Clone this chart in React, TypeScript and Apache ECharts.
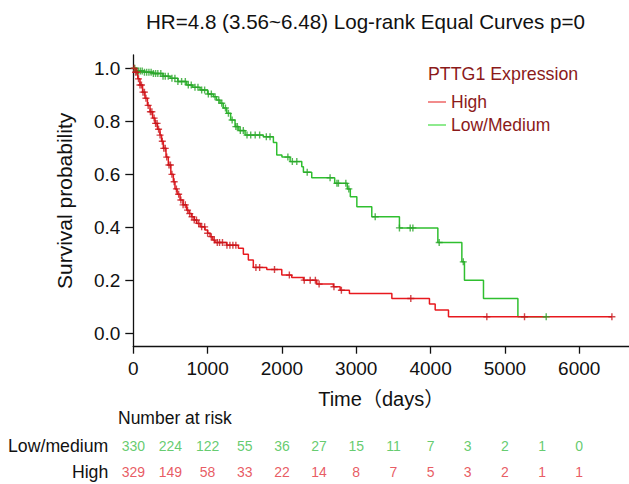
import React, { useEffect, useRef } from "react";
import * as echarts from "echarts";

const TITLE = "HR=4.8 (3.56~6.48) Log-rank Equal Curves p=0";
const LEGEND_TITLE = "PTTG1 Expression";
const GROUPS = ["High", "Low/Medium"];

// Kaplan-Meier step points [day, survival]
const highCurve: [number, number][] = [
  [0, 1.0], [30, 0.985], [60, 0.96], [90, 0.937], [125, 0.91], [157, 0.887], [190, 0.86],
  [225, 0.836], [260, 0.812], [292, 0.792], [325, 0.77], [359, 0.748], [380, 0.725],
  [404, 0.698], [440, 0.665], [471, 0.635], [505, 0.6], [539, 0.572], [561, 0.545],
  [590, 0.525], [629, 0.503], [670, 0.485], [719, 0.465], [750, 0.452], [786, 0.44],
  [820, 0.428], [853, 0.415], [900, 0.402], [965, 0.39], [1000, 0.378], [1033, 0.365],
  [1070, 0.352], [1100, 0.343], [1257, 0.333], [1414, 0.321], [1481, 0.299], [1548, 0.277],
  [1615, 0.249], [1796, 0.241], [1998, 0.22], [2132, 0.211], [2289, 0.201], [2469, 0.186],
  [2692, 0.176], [2783, 0.163], [2908, 0.151], [3479, 0.132], [3985, 0.111], [4062, 0.088],
  [4241, 0.063], [6440, 0.063],
];
const lowCurve: [number, number][] = [
  [0, 1.0], [40, 0.99], [150, 0.985], [270, 0.98], [400, 0.97], [495, 0.962], [600, 0.95],
  [718, 0.937], [800, 0.928], [898, 0.918], [1000, 0.903], [1077, 0.893], [1120, 0.88],
  [1167, 0.868], [1210, 0.85], [1257, 0.83], [1310, 0.805], [1369, 0.78], [1420, 0.765],
  [1504, 0.748], [1750, 0.742], [1885, 0.72], [1930, 0.673], [2000, 0.665], [2110, 0.648],
  [2267, 0.629], [2289, 0.608], [2401, 0.587], [2710, 0.566], [2880, 0.545], [2920, 0.515],
  [3008, 0.478], [3209, 0.44], [3581, 0.398], [4098, 0.343], [4421, 0.27], [4456, 0.201],
  [4712, 0.132], [5175, 0.063], [5556, 0.063],
];

// censoring times (days)
const highCensor = [
  10, 30, 50, 70, 90, 110, 130, 150, 170, 200, 230, 250, 280, 300, 320, 340, 360, 390, 410,
  430, 450, 480, 500, 520, 550, 580, 610, 640, 670, 700, 730, 760, 790, 820, 850, 880, 920,
  960, 1000, 1050, 1090, 1130, 1160, 1200, 1260, 1300, 1340, 1380, 1650, 1700, 1900, 2100,
  2300, 2380, 2450, 2500, 2700, 2800, 3734, 4757, 5264, 6440,
];
const lowCensor = [
  20, 45, 70, 95, 120, 150, 180, 210, 240, 270, 300, 330, 370, 400, 430, 470, 520, 560, 600,
  650, 700, 740, 780, 830, 870, 920, 960, 1010, 1050, 1100, 1150, 1190, 1240, 1280, 1330,
  1380, 1400, 1440, 1480, 1530, 1580, 1640, 1700, 1790, 1840, 2080, 2140, 2200, 2340, 2648,
  2740, 2760, 2860, 2900, 3255, 3581, 3726, 3762, 4116, 4440, 5556,
];

// number at risk
const riskDays = [0, 500, 1000, 1500, 2000, 2500, 3000, 3500, 4000, 4500, 5000, 5500, 6000];
const riskRows = ["High", "Low/medium"];
const riskLow = [330, 224, 122, 55, 36, 27, 15, 11, 7, 3, 2, 1, 0];
const riskHigh = [329, 149, 58, 33, 22, 14, 8, 7, 5, 3, 2, 1, 1];

const xTicks = [0, 1000, 2000, 3000, 4000, 5000, 6000];
const yTicks = [0, 0.2, 0.4, 0.6, 0.8, 1.0];

const FONT = "'Liberation Sans', Arial, 'Noto Sans CJK SC', sans-serif";
const RED = "#E8191E";
const GREEN = "#2FBF2F";

function survAt(curve: [number, number][], t: number) {
  let s = curve[0][1];
  for (const [d, v] of curve) {
    if (d <= t) s = v;
    else break;
  }
  return s;
}

const PLUS = "path://M4,0h2v4h4v2h-4v4h-2v-4h-4v-2h4z";

export default function App() {
  const ref = useRef<HTMLDivElement>(null);
  useEffect(() => {
    document.body.style.margin = "0";
    const chart = echarts.init(ref.current!, undefined, { renderer: "svg" });
    const X_MAX = 6670;
    chart.setOption({
      animation: false,
      backgroundColor: "#fff",
      textStyle: { fontFamily: FONT },
      title: {
        text: TITLE,
        left: 141,
        top: 6,
        textStyle: { fontSize: 20.6, fontWeight: "normal", color: "#111", fontFamily: FONT },
      },
      legend: {
        orient: "vertical",
        left: 423,
        top: 87,
        itemWidth: 18,
        itemHeight: 2,
        itemGap: 3,
        icon: "rect",
        textStyle: { fontSize: 17.5, color: "#8B1A1A", lineHeight: 20, fontFamily: FONT },
        data: [
          { name: GROUPS[0], itemStyle: { color: "#F28C8C" } },
          { name: GROUPS[1], itemStyle: { color: "#8EEA8E" } },
        ],
      },
      graphic: [
        {
          type: "text",
          left: 428,
          top: 65,
          style: { text: LEGEND_TITLE, fontSize: 17.8, fill: "#8B1A1A", fontFamily: FONT },
        },
        {
          type: "text",
          left: 118,
          top: 409,
          style: { text: "Number at risk", fontSize: 17.5, fill: "#111", fontFamily: FONT },
        },
      ],
      grid: [
        { left: 133.3, right: 0, top: 55, bottom: 137.3 },
        { left: 133.3, right: 0, top: 445.7, bottom: 12 },
      ],
      xAxis: [
        {
          gridIndex: 0,
          type: "value",
          min: 0,
          max: X_MAX,
          name: "Time（days）",
          nameLocation: "middle",
          nameGap: 42,
          nameTextStyle: { fontSize: 20, color: "#111", fontFamily: FONT },
          splitLine: { show: false },
          axisLine: { onZero: false, lineStyle: { color: "#111", width: 1.3 } },
          axisTick: { length: 7, customValues: xTicks, lineStyle: { color: "#111", width: 1.3 } },
          axisLabel: {
            customValues: xTicks,
            fontSize: 19,
            color: "#111",
            margin: 12,
            fontFamily: FONT,
            formatter: (v: number) => String(v),
          },
        },
        { gridIndex: 1, type: "value", min: 0, max: X_MAX, show: false },
      ],
      yAxis: [
        {
          gridIndex: 0,
          type: "value",
          min: -0.05,
          max: 1.05,
          name: "Survival probability",
          nameLocation: "middle",
          nameGap: 58,
          nameTextStyle: { fontSize: 21, color: "#111", fontFamily: FONT },
          splitLine: { show: false },
          axisLine: { show: true, onZero: false, lineStyle: { color: "#111", width: 1.3 } },
          axisTick: { show: true, length: 8, customValues: yTicks, lineStyle: { color: "#111", width: 1.3 } },
          axisLabel: {
            customValues: yTicks,
            fontSize: 19,
            color: "#111",
            margin: 13,
            fontFamily: FONT,
            formatter: (v: number) => v.toFixed(1),
          },
        },
        {
          gridIndex: 1,
          type: "category",
          data: riskRows,
          boundaryGap: false,
          axisLine: { show: false },
          axisTick: { show: false },
          axisLabel: { fontSize: 17.7, color: "#111", margin: 25, fontFamily: FONT },
        },
      ],
      series: [
        {
          name: GROUPS[1],
          type: "line",
          step: "end",
          showSymbol: false,
          xAxisIndex: 0,
          yAxisIndex: 0,
          color: GREEN,
          lineStyle: { width: 1.5, color: GREEN },
          data: lowCurve,
          z: 2,
        },
        {
          name: GROUPS[0],
          type: "line",
          step: "end",
          showSymbol: false,
          xAxisIndex: 0,
          yAxisIndex: 0,
          color: RED,
          lineStyle: { width: 1.5, color: RED },
          data: highCurve,
          z: 3,
        },
        {
          name: "Low/Medium censored",
          type: "scatter",
          symbol: PLUS,
          symbolSize: 7,
          xAxisIndex: 0,
          yAxisIndex: 0,
          itemStyle: { color: "#2AA52A" },
          data: lowCensor.map((d) => [d, survAt(lowCurve, d)]),
          z: 4,
        },
        {
          name: "High censored",
          type: "scatter",
          symbol: PLUS,
          symbolSize: 7,
          xAxisIndex: 0,
          yAxisIndex: 0,
          itemStyle: { color: "#C8161C" },
          data: highCensor.map((d) => [d, survAt(highCurve, d)]),
          z: 5,
        },
        {
          name: "risk low",
          type: "scatter",
          xAxisIndex: 1,
          yAxisIndex: 1,
          symbolSize: 1,
          itemStyle: { color: "transparent" },
          label: {
            show: true,
            position: "inside",
            fontSize: 14,
            color: "#3DBE4A",
            fontFamily: FONT,
            formatter: (p: any) => String(p.value[2]),
          },
          data: riskDays.map((d, i) => [d, "Low/medium", riskLow[i]]),
        },
        {
          name: "risk high",
          type: "scatter",
          xAxisIndex: 1,
          yAxisIndex: 1,
          symbolSize: 1,
          itemStyle: { color: "transparent" },
          label: {
            show: true,
            position: "inside",
            fontSize: 14,
            color: "#E2303A",
            fontFamily: FONT,
            formatter: (p: any) => String(p.value[2]),
          },
          data: riskDays.map((d, i) => [d, "High", riskHigh[i]]),
        },
      ],
    });
    return () => chart.dispose();
  }, []);
  return <div ref={ref} style={{ width: 629, height: 484 }} />;
}
